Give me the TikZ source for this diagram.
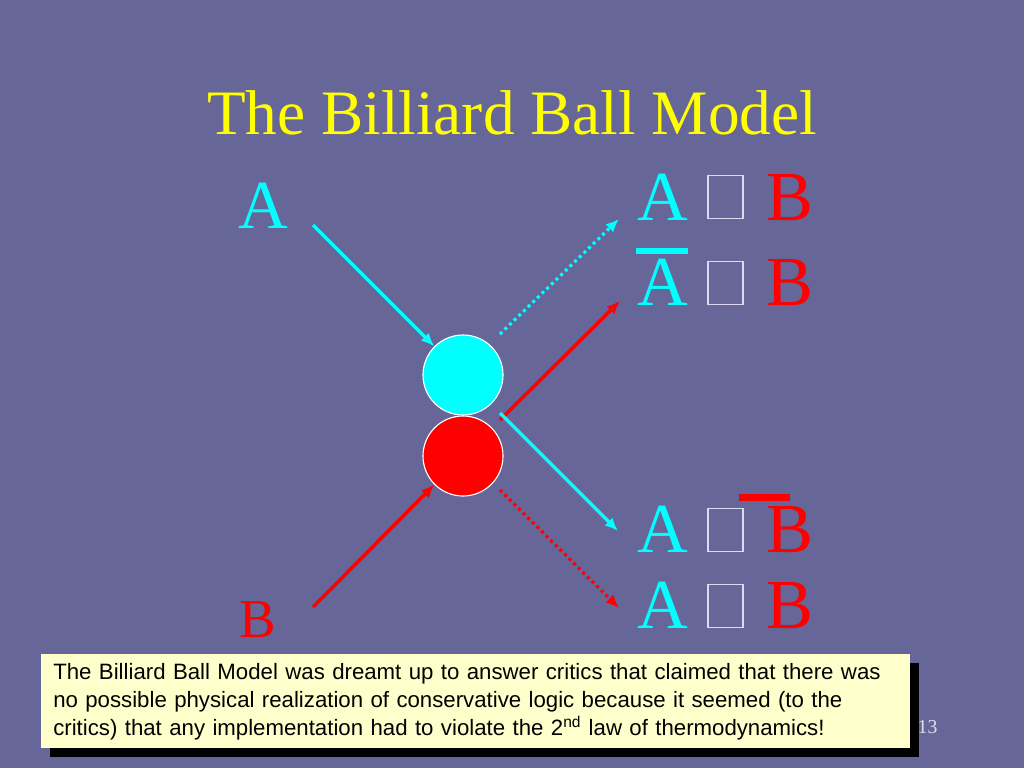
\documentclass[tikz,border=0pt]{standalone}
\usepackage{fontspec}
\setmainfont{Liberation Serif}
\newfontfamily\notefont{Liberation Sans}
\usepackage{xcolor}
\usepackage{tikz}
\usetikzlibrary{calc,positioning,arrows.meta,shadows}
\definecolor{slide}{RGB}{102,102,153}
\definecolor{notebg}{RGB}{255,255,204}
\definecolor{gatebox}{RGB}{222,216,242}
\definecolor{pagegray}{RGB}{222,222,238}
\definecolor{ballcyan}{RGB}{0,255,255}
\definecolor{ballred}{RGB}{255,0,0}
\definecolor{titleyellow}{RGB}{255,255,0}

\begin{document}
\begin{tikzpicture}[
	%	style def
    x=0.025cm, y=-0.025cm,
    letter/.style={inner sep=0pt, anchor=base, font=\fontsize{50}{50}\selectfont},
    ball/.style={circle, draw=white, line width=0.8pt, minimum size=2cm, inner sep=0pt},
    path line/.style={line width=2.5pt, -{Latex[length=0.33cm,width=0.28cm]}},
    dot line/.style={path line, line width=2.3pt, dash pattern=on 2.1pt off 2.5pt},
    gate/.style={draw=gatebox, line width=0.9pt, minimum width=0.875cm, minimum height=1.075cm, inner sep=0pt, anchor=south},
    bar/.style={line width=4.3pt}
    ]

    % slide background
    \useasboundingbox[fill=slide] (0,0) rectangle (1024,768);

    \node[inner sep=0pt, anchor=base, titleyellow, font=\fontsize{45}{45}\selectfont] (title) at (512,135) {The Billiard Ball Model};

    % inputs
    \node[letter, ballcyan, font=\fontsize{49}{49}\selectfont] (labA) at (263,228) {A};
    \node[letter, ballred, font=\fontsize{39}{39}\selectfont] (labB) at (258,637) {B};

    % the two balls
    \node[ball, fill=ballcyan] (ballA) at (463,375) {};
    \node[ball, fill=ballred] (ballB) at (463,456) {};

    % outputs, top to bottom
    \node[letter, ballcyan] (oA1) at (663,220) {A};
    \node[gate] (g1) at (725.5,219) {};
    \node[letter, ballred] (oB1) at (790,220) {B};

    \node[letter, ballcyan] (oA2) at (663,305) {A};
    \node[gate] (g2) at (725.5,305) {};
    \node[letter, ballred] (oB2) at (790,305) {B};

    \node[letter, ballcyan] (oA3) at (663,552) {A};
    \node[gate] (g3) at (725.5,552) {};
    \node[letter, ballred] (oB3) at (790,552) {B};

    \node[letter, ballcyan] (oA4) at (663,628) {A};
    \node[gate] (g4) at (725.5,628) {};
    \node[letter, ballred] (oB4) at (790,628) {B};

    % negation bars
    \draw[bar, ballcyan] (636,251) -- (688,251);
    \draw[bar, ballred] (739,497.5) -- (790,497.5);

    % paths of the balls
    \coordinate (inA) at (313,225);
    \coordinate (inB) at (313,607);
    \coordinate (s1) at (500,334);
    \coordinate (e1) at (619,219);
    \coordinate (s2) at (500,420);
    \coordinate (e2) at (620,301);
    \coordinate (s3) at (500,413);
    \coordinate (e3) at (618,531);
    \coordinate (s4) at (500,490);
    \coordinate (e4) at (619,608);

    \draw[path line, ballcyan] (inA) -- (ballA.135);
    \draw[path line, ballred] (inB) -- (ballB.225);
    \draw[dot line, ballcyan] (s1) -- (e1);
    \draw[path line, ballred] (s2) -- (e2);
    \draw[path line, ballcyan] (s3) -- (e3);
    \draw[dot line, ballred] (s4) -- (e4);

    % note at the bottom
    \node[anchor=north west, fill=notebg, inner xsep=0.3cm, inner ysep=0pt,
          text width=21.1cm, minimum height=2.35cm, align=left,
          font=\notefont\fontsize{15.8}{19.9}\selectfont,
          drop shadow={opacity=1, fill=black, shadow xshift=0.225cm, shadow yshift=-0.225cm}]
        (note) at (41,654) {The Billiard Ball Model was dreamt up to answer critics that claimed that there was\\
        no possible physical realization of conservative logic because it seemed (to the\\
        critics) that any implementation had to violate the 2\textsuperscript{nd} law of thermodynamics!};

    \node[inner sep=0pt, anchor=base, pagegray, font=\fontsize{14}{14}\selectfont] (pg) at (927.5,733) {13};
\end{tikzpicture}
\end{document}
